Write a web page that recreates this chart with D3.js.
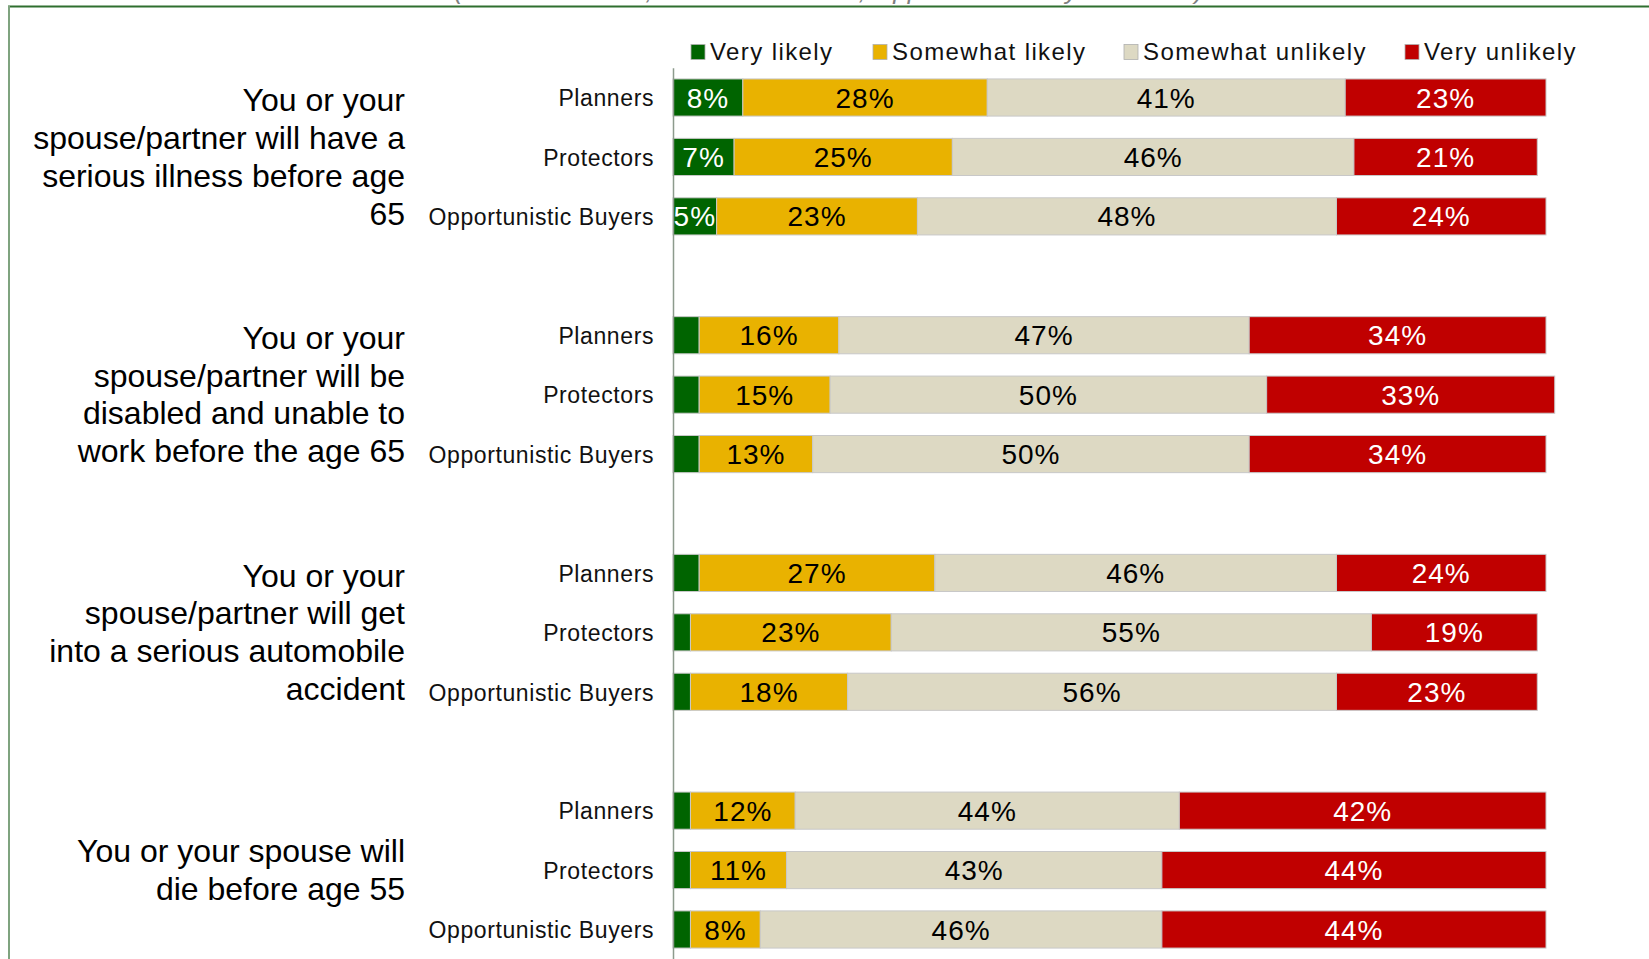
<!DOCTYPE html>
<html>
<head>
<meta charset="utf-8">
<script src="https://cdn.jsdelivr.net/npm/d3@7"></script>
<style>
  html, body { margin: 0; padding: 0; background: #fff; }
  svg { display: block; font-family: "Liberation Sans", Arial, sans-serif; }
</style>
</head>
<body>
<svg id="chart" width="1649" height="959"></svg>
<script>
// Likelihood of life events, by segment
const questions = [
  ["You or your", "spouse/partner will have a", "serious illness before age", "65"],
  ["You or your", "spouse/partner will be", "disabled and unable to", "work before the age 65"],
  ["You or your", "spouse/partner will get", "into a serious automobile", "accident"],
  ["You or your spouse will", "die before age 55"]
];
const segments = ["Planners", "Protectors", "Opportunistic Buyers"];
const responses = ["Very likely", "Somewhat likely", "Somewhat unlikely", "Very unlikely"];
const colors = ["#006400", "#E9B200", "#DDD9C3", "#C00000"];
const labelColors = ["#ffffff", "#000000", "#000000", "#ffffff"];

// one row per segment, question by question: [very likely, somewhat likely, somewhat unlikely, very unlikely]
const veryLikely       = [8, 7, 5,   3, 3, 3,   3, 2, 2,   2, 2, 2];
const somewhatLikely   = [28, 25, 23, 16, 15, 13, 27, 23, 18, 12, 11, 8];
const somewhatUnlikely = [41, 46, 48, 47, 50, 50, 46, 55, 56, 44, 43, 46];
const veryUnlikely     = [23, 21, 24, 34, 33, 34, 24, 19, 23, 42, 44, 44];

const subtitle = "(Planners n=500, Protectors n=500, Opportunistic Buyers n=500)";

const svg = d3.select("#chart");

// frame
svg.append("line").attr("x1", 8).attr("x2", 1649).attr("y1", 6.5).attr("y2", 6.5)
  .attr("stroke", "#2f6f2f").attr("stroke-width", 2);
svg.append("line").attr("x1", 9).attr("x2", 9).attr("y1", 6).attr("y2", 959)
  .attr("stroke", "#7fa37f").attr("stroke-width", 2);

// subtitle sitting above the frame, only its descenders reach the page
svg.append("text").attr("x", 454).attr("y", -1)
  .attr("font-size", 26).attr("font-style", "italic").attr("fill", "#7f7f7f")
  .text(subtitle);

// build rows, with an empty slot between question groups
const rows = [];
const slots = [];
questions.forEach((q, qi) => {
  if (qi > 0) slots.push("gap" + qi);
  segments.forEach((s, si) => {
    const i = qi * segments.length + si;
    const id = "r" + i;
    slots.push(id);
    rows.push({
      id, qi, segment: s,
      values: [veryLikely[i], somewhatLikely[i], somewhatUnlikely[i], veryUnlikely[i]]
    });
  });
});

const x = d3.scaleLinear().domain([0, 100]).range([673, 1546]);
const y = d3.scaleBand().domain(slots).range([67.8, 959.2])
  .paddingInner(0.375).paddingOuter(0.1875);

// stacked segments
const stackData = rows.map(r => {
  let acc = 0;
  return r.values.map((v, k) => {
    const d = { row: r, k, v, x0: acc, x1: acc + v };
    acc += v;
    return d;
  });
}).flat();

const bars = svg.append("g");
bars.selectAll("rect").data(stackData).join("rect")
  .attr("x", d => x(d.x0))
  .attr("y", d => y(d.row.id))
  .attr("width", d => x(d.x1) - x(d.x0))
  .attr("height", y.bandwidth())
  .attr("fill", d => colors[d.k])
  .attr("stroke", "#c8c8c8")
  .attr("stroke-width", 1);

bars.selectAll("text").data(stackData.filter(d => d.v > 3)).join("text")
  .attr("x", d => x((d.x0 + d.x1) / 2))
  .attr("y", d => y(d.row.id) + y.bandwidth() / 2)
  .attr("dy", "0.36em")
  .attr("text-anchor", "middle")
  .attr("font-size", 28)
  .attr("letter-spacing", "1px")
  .attr("fill", d => labelColors[d.k])
  .text(d => d.v + "%");

// category axis
const rowById = new Map(rows.map(r => [r.id, r]));
const axis = d3.axisLeft(y).tickSize(0).tickSizeOuter(0).tickPadding(19)
  .tickFormat(id => rowById.has(id) ? rowById.get(id).segment : "");
const gAxis = svg.append("g").attr("transform", "translate(673,0)").call(axis);
gAxis.select(".domain").attr("stroke", "#8d9b8d").attr("stroke-width", 1.5);
gAxis.selectAll("text")
  .attr("font-size", 23)
  .attr("letter-spacing", "0.6px")
  .attr("dy", "0.38em")
  .attr("fill", "#111")
  .attr("font-family", "'Liberation Sans', Arial, sans-serif");

// question labels, centred on the middle bar of each group
const lineH = 37.8;
const qLabels = svg.append("g");
questions.forEach((lines, qi) => {
  const mid = y("r" + (qi * segments.length + 1)) + y.bandwidth() / 2;
  const t = qLabels.append("text")
    .attr("text-anchor", "end")
    .attr("font-size", 32)
    .attr("fill", "#000");
  const top = mid - (lines.length - 1) * lineH / 2;
  lines.forEach((ln, li) => {
    t.append("tspan").attr("x", 405).attr("y", top + li * lineH).attr("dy", "0.34em").text(ln);
  });
});

// legend
const legendX = [691, 873, 1124, 1405];
const legend = svg.append("g");
responses.forEach((r, k) => {
  legend.append("rect")
    .attr("x", legendX[k]).attr("y", 44.5)
    .attr("width", 14).attr("height", 15)
    .attr("fill", colors[k]).attr("stroke", "#b0b0b0").attr("stroke-width", 0.8);
  legend.append("text")
    .attr("x", legendX[k] + 19).attr("y", 60)
    .attr("font-size", 24)
    .attr("letter-spacing", "1.4px")
    .attr("fill", "#111")
    .text(r);
});
</script>
</body>
</html>
